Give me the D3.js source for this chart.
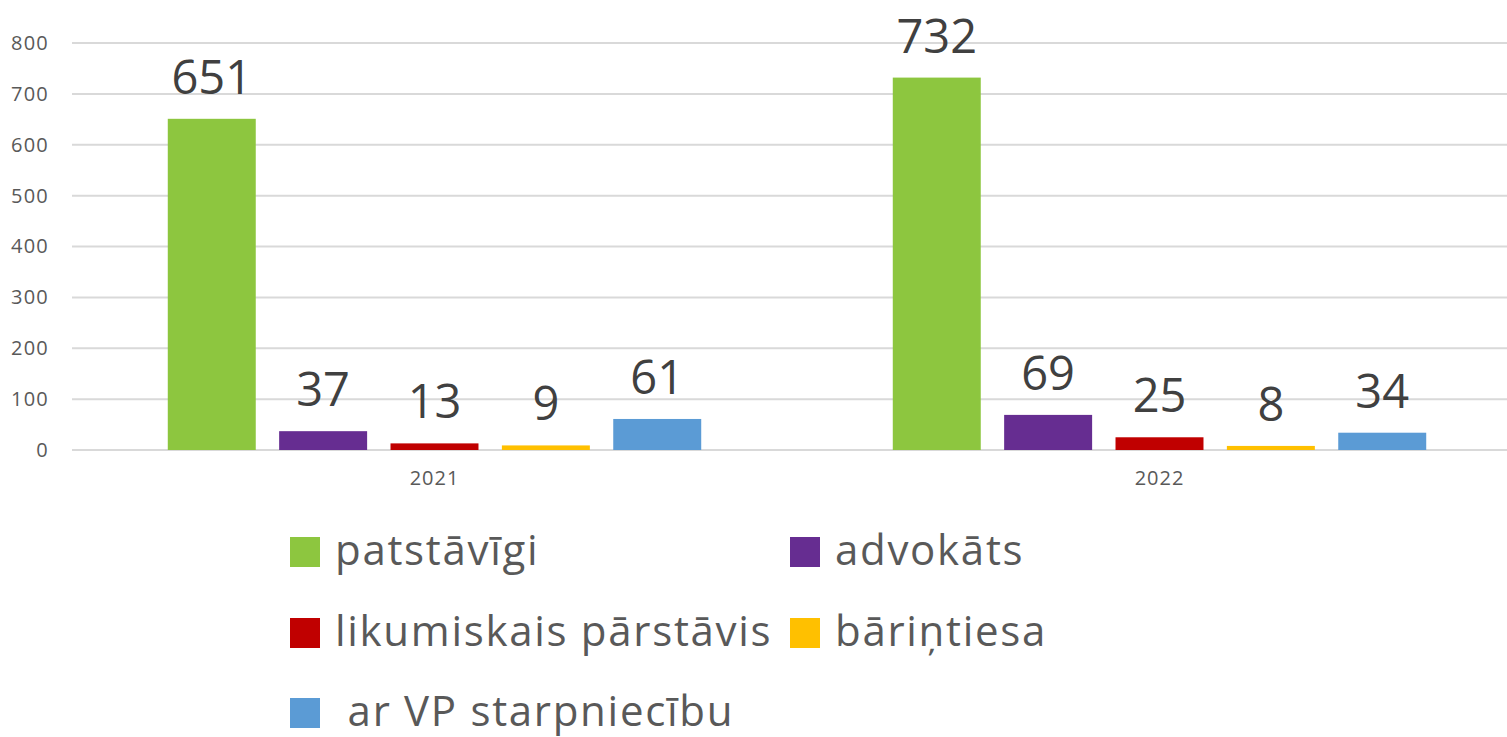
<!DOCTYPE html>
<html lang="lv">
<head>
  <meta charset="UTF-8">
  <title>patstāvīgi / advokāts / ...</title>
  <style>
    body { margin: 0; background: #fff; overflow: hidden; }
    svg { display: block; font-family: "Open Sans", "Noto Sans", sans-serif; }
    .tick text { fill: #595959; }
  </style>
</head>
<body>
  <svg id="chart" width="1507" height="737"></svg>
  <script src="https://d3js.org/d3.v7.min.js"></script>
  <script>
    // chart data
    const years = ["2021", "2022"];
    const seriesNames = ["patstāvīgi", "advokāts", "likumiskais pārstāvis", "bāriņtiesa", " ar VP starpniecību"];
    const seriesColors = ["#8DC63F", "#662D91", "#C00000", "#FFC000", "#5B9BD5"];
    const values2021 = [651, 37, 13, 9, 61];
    const values2022 = [732, 69, 25, 8, 34];
    const yTicks = [0, 100, 200, 300, 400, 500, 600, 700, 800];

    const valuesByYear = [values2021, values2022];

    const svg = d3.select("#chart");
    const plotLeft = 72, plotRight = 1522, plotTop = 43, plotBottom = 450;

    const x0 = d3.scaleBand().domain(years).range([plotLeft, plotRight]).padding(0);
    const x1 = d3.scaleBand().domain(seriesNames).range([0, x0.bandwidth()])
      .paddingInner(0.21).paddingOuter(0.86);
    const y = d3.scaleLinear().domain([0, 800]).range([plotBottom, plotTop]);

    // gridlines
    svg.append("g")
      .selectAll("line")
      .data(yTicks)
      .join("line")
      .attr("x1", plotLeft).attr("x2", plotRight)
      .attr("y1", d => y(d)).attr("y2", d => y(d))
      .attr("stroke", "#D9D9D9")
      .attr("stroke-width", 2);

    // y axis labels
    const yAxis = svg.append("g")
      .attr("transform", `translate(${plotLeft - 23},0)`)
      .call(d3.axisLeft(y).tickValues(yTicks).tickSize(0).tickPadding(0));
    yAxis.select(".domain").remove();
    yAxis.selectAll("text")
      .attr("font-size", 20)
      .attr("letter-spacing", 1.2)
      .attr("font-family", "'Open Sans', sans-serif");

    // x axis labels
    const xAxis = svg.append("g")
      .attr("transform", `translate(0,${plotBottom + 21})`)
      .call(d3.axisBottom(x0).tickSize(0).tickPadding(0));
    xAxis.select(".domain").remove();
    xAxis.selectAll("text")
      .attr("font-size", 20)
      .attr("letter-spacing", 1)
      .attr("font-family", "'Open Sans', sans-serif");

    // bars
    const groups = svg.append("g")
      .selectAll("g")
      .data(years)
      .join("g")
      .attr("transform", d => `translate(${x0(d)},0)`);

    groups.each(function (yr, yi) {
      const g = d3.select(this);
      const rows = seriesNames.map((s, i) => ({ s, v: valuesByYear[yi][i], c: seriesColors[i] }));
      g.selectAll("rect")
        .data(rows)
        .join("rect")
        .attr("x", d => x1(d.s))
        .attr("width", x1.bandwidth())
        .attr("y", d => y(d.v))
        .attr("height", d => y(0) - y(d.v))
        .attr("fill", d => d.c);
      g.selectAll("text")
        .data(rows)
        .join("text")
        .attr("x", d => x1(d.s) + x1.bandwidth() / 2)
        .attr("y", d => y(d.v) - 25)
        .attr("text-anchor", "middle")
        .attr("font-size", 47)
        .attr("fill", "#404040")
        .text(d => d.v);
    });

    // legend
    const legendPos = [[290, 552], [790, 552], [290, 633], [790, 633], [290, 713]];
    const legend = svg.append("g")
      .selectAll("g")
      .data(seriesNames)
      .join("g")
      .attr("transform", (d, i) => `translate(${legendPos[i][0]},${legendPos[i][1]})`);
    legend.append("rect")
      .attr("x", 0).attr("y", -15)
      .attr("width", 30).attr("height", 30)
      .attr("fill", (d, i) => seriesColors[i]);
    legend.append("text")
      .attr("x", 45)
      .attr("y", 13)
      .attr("font-size", 42)
      .attr("letter-spacing", 1.7)
      .attr("fill", "#595959")
      .style("white-space", "pre")
      .text(d => d);
  </script>
</body>
</html>
